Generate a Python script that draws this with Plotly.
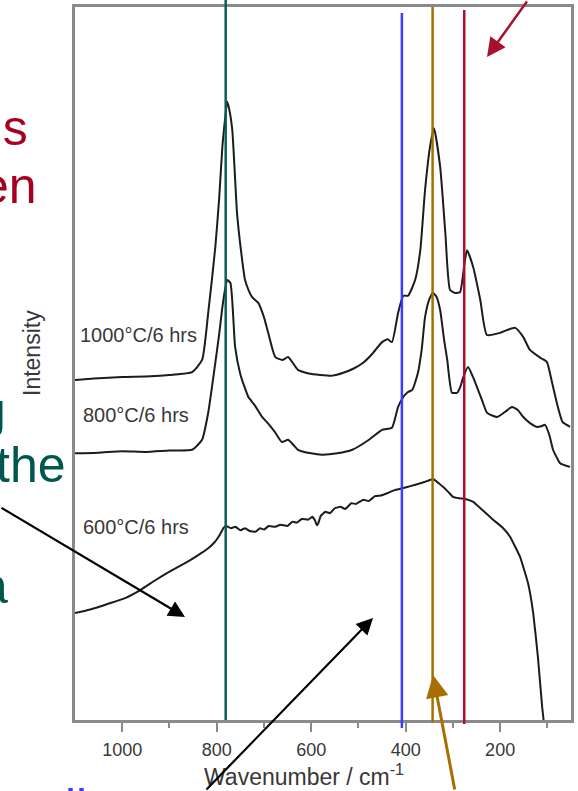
import plotly.graph_objects as go

# Raman spectra after 6 h anneals (intensity in arbitrary units, curves offset)
wn_1000 = [1100, 1060, 1000, 940, 900, 852, 831, 818, 803, 795, 788, 782, 778, 774, 767,
           757, 748, 740, 732, 725, 712, 700, 691, 676, 661, 649, 638, 628, 605, 581,
           555, 532, 510, 490, 470, 450, 438, 429, 416, 405, 395, 380, 369, 359, 348,
           340, 327, 316, 306, 295, 285, 276, 270, 257, 242, 228, 200, 185, 168, 151,
           137, 115, 101, 90, 79, 68, 52]
int_1000 = [47.7, 47.9, 48.1, 48.2, 48.4, 48.8, 50.5, 57.1, 66.3, 73.0, 80.4, 84.5, 86.7, 85.8, 82.7,
            71.1, 65.5, 61.7, 60.2, 59.3, 58.5, 56.5, 54.3, 50.9, 50.5, 50.9, 50.0, 49.1, 48.6, 48.4,
            48.3, 48.7, 49.3, 50.1, 51.4, 53.0, 53.4, 53.0, 57.1, 59.5, 59.5, 61.7, 65.9, 74.3, 80.6,
            83.0, 77.6, 68.3, 60.3, 59.9, 60.0, 63.8, 65.9, 63.5, 58.9, 54.0, 54.3, 54.7, 55.0, 53.7,
            51.9, 50.8, 50.2, 47.3, 44.2, 41.8, 41.1]

wn_800 = [1100, 1050, 1000, 950, 900, 852, 831, 818, 803, 795, 788, 782, 778, 771, 761,
          750, 740, 733, 720, 704, 690, 676, 662, 649, 638, 628, 600, 577, 545, 513,
          480, 450, 429, 416, 405, 395, 386, 374, 366, 359, 350, 342, 335, 327, 319,
          312, 302, 291, 284, 278, 268, 258, 249, 238, 228, 217, 206, 190, 175, 163,
          151, 136, 122, 113, 105, 96, 88, 80, 73, 62, 52]
int_800 = [37.4, 37.5, 37.7, 37.6, 37.8, 37.9, 39.3, 43.1, 50.1, 54.0, 57.9, 60.5, 61.7, 61.3, 52.3,
           48.5, 46.5, 45.3, 44.2, 42.5, 41.5, 40.3, 39.0, 39.3, 38.6, 37.9, 37.4, 37.2, 37.4, 37.9,
           39.2, 40.7, 41.0, 43.9, 45.3, 46.0, 46.3, 48.7, 52.0, 56.5, 59.0, 59.9, 59.4, 57.5, 53.5,
           50.5, 45.9, 45.9, 46.8, 48.1, 49.5, 48.2, 46.7, 44.8, 43.1, 42.7, 42.5, 43.2, 43.9, 43.5,
           42.5, 41.6, 41.1, 41.2, 41.4, 40.0, 37.9, 36.8, 36.0, 35.7, 35.5]

wn_600 = [1100, 1080, 1057, 1030, 994, 960, 930, 900, 867, 840, 818, 805, 797, 790, 786,
          780, 770, 760, 750, 740, 730, 718, 708, 700, 690, 676, 665, 650, 640, 630,
          620, 606, 598, 592, 588, 585, 580, 570, 560, 550, 538, 528, 515, 505, 490,
          478, 465, 452, 439, 425, 407, 390, 369, 355, 342, 330, 321, 310, 300, 287,
          274, 257, 240, 215, 195, 179, 158, 141, 130, 120, 111, 108]
int_600 = [15.0, 15.3, 15.7, 16.3, 17.1, 18.3, 19.6, 20.8, 22.0, 23.1, 24.1, 24.9, 25.6, 26.4, 26.9,
           27.2, 26.9, 27.1, 26.6, 26.9, 26.5, 26.4, 26.9, 26.7, 27.2, 27.1, 27.4, 27.2, 27.8, 27.7,
           28.2, 28.1, 28.5, 28.0, 27.3, 27.6, 28.6, 29.2, 29.0, 29.7, 29.9, 29.6, 30.4, 30.3, 30.9,
           30.7, 31.4, 31.5, 31.8, 32.2, 32.5, 32.8, 33.2, 33.5, 33.8, 33.2, 32.7, 32.0, 31.3, 31.1,
           31.0, 30.6, 29.6, 28.1, 27.0, 25.7, 22.9, 19.2, 15.0, 8.8, 1.8, 0.0]

series_labels = ["1000°C/6 hrs", "800°C/6 hrs", "600°C/6 hrs"]

# marked band positions (cm-1) and their colours
band_wn = [781, 408, 343, 276]
band_colors = ["#0B5E58", "#3B3BFF", "#A86F00", "#A8102E"]

tick_vals = [1000, 800, 600, 400, 200]
minor_vals = [900, 700, 500, 300, 100]

W, H = 578, 791
L, R, T, B = 75, 7, 7, 71
PW = W - L - R
PH = H - T - B


def fx(p):
    return (p - L) / PW


def fy(p):
    return (H - B - p) / PH


FONT = "Arial, Liberation Sans, sans-serif"

fig = go.Figure()
for wn, inten, smooth in [(wn_1000, int_1000, 0.5), (wn_800, int_800, 0.5), (wn_600, int_600, 0.3)]:
    fig.add_trace(go.Scatter(
        x=wn, y=inten, mode="lines",
        line=dict(color="#1c1c1c", width=2, shape="spline", smoothing=smooth),
        hoverinfo="skip", showlegend=False))

# vertical band markers
band_spans = [(720, 0), (728, 13), (723, 7), (724, 10)]
for b, c, (ybot, ytop) in zip(band_wn, band_colors, band_spans):
    fig.add_shape(type="line", xref="x", yref="paper", x0=b, x1=b,
                  y0=fy(ybot), y1=fy(ytop), line=dict(color=c, width=2.5), layer="above")

ann = []
# curve labels
for lab, (xl, yc) in zip(series_labels, [(79, 335), (82, 415), (82, 527)]):
    ann.append(dict(text=lab, xref="paper", yref="paper", x=fx(xl), y=fy(yc),
                    xanchor="left", yanchor="middle", showarrow=False, borderpad=0,
                    font=dict(family=FONT, size=20, color="#383838")))

# axis titles
ann.append(dict(text="Wavenumber / cm<sup>-1</sup>", xref="paper", yref="paper",
                x=fx(304), y=fy(775), xanchor="center", yanchor="middle", showarrow=False,
                font=dict(family=FONT, size=23, color="#383838")))
ann.append(dict(text="Intensity", xref="paper", yref="paper", textangle=-90,
                x=fx(32), y=fy(353), xanchor="center", yanchor="middle", showarrow=False,
                font=dict(family=FONT, size=23, color="#383838")))

# slide text running in from the left
side_text = [("ns", 29, 128, "#A50021"), ("en", 38, 186, "#A50021"),
             ("g", 7, 411, "#00574F"), ("the", 67, 465, "#00574F"),
             ("a", 9, 586, "#00574F")]
for t, xr, yc, c in side_text:
    ann.append(dict(text=t, xref="paper", yref="paper", x=fx(xr), y=fy(yc),
                    xanchor="right", yanchor="middle", showarrow=False, borderpad=0,
                    font=dict(family=FONT, size=50, color=c)))
ann.append(dict(text="ii", xref="paper", yref="paper", x=fx(64), y=fy(807),
                xanchor="left", yanchor="middle", showarrow=False, borderpad=0,
                font=dict(family=FONT, size=50, color="#3B3BFF")))

# pointer arrows
arrows = [((487, 57), (528, -20), "#A8102E", 2.5),
          ((185, 617), (-20, 507), "#000000", 2.2),
          ((373, 618), (205, 808), "#000000", 2.2),
          ((433, 675), (455, 810), "#A86F00", 3)]
for (hx, hy), (tx, ty), c, w in arrows:
    ann.append(dict(text="", xref="paper", yref="paper", x=fx(hx), y=fy(hy),
                    ax=tx - hx, ay=ty - hy, showarrow=True, arrowhead=2,
                    arrowsize=1.5, arrowwidth=w, arrowcolor=c, standoff=0))

fig.update_layout(
    width=W, height=H,
    margin=dict(l=L, r=R, t=T, b=B, autoexpand=False),
    paper_bgcolor="white", plot_bgcolor="white",
    annotations=ann,
    xaxis=dict(range=[1100, 50], showgrid=False, zeroline=False,
               showline=True, mirror=True, linecolor="#8a8a8a", linewidth=3,
               ticks="outside", ticklen=9, tickwidth=2, tickcolor="#8a8a8a",
               tickmode="array", tickvals=tick_vals,
               tickfont=dict(family=FONT, size=18, color="#383838"),
               ticklabelstandoff=2,
               minor=dict(tickmode="array", tickvals=minor_vals, ticks="outside",
                          ticklen=5, tickwidth=2, tickcolor="#8a8a8a")),
    yaxis=dict(range=[0, 100], showgrid=False, zeroline=False,
               showline=True, mirror=True, linecolor="#8a8a8a", linewidth=3,
               ticks="", showticklabels=False),
)

fig.write_html("out.html")
